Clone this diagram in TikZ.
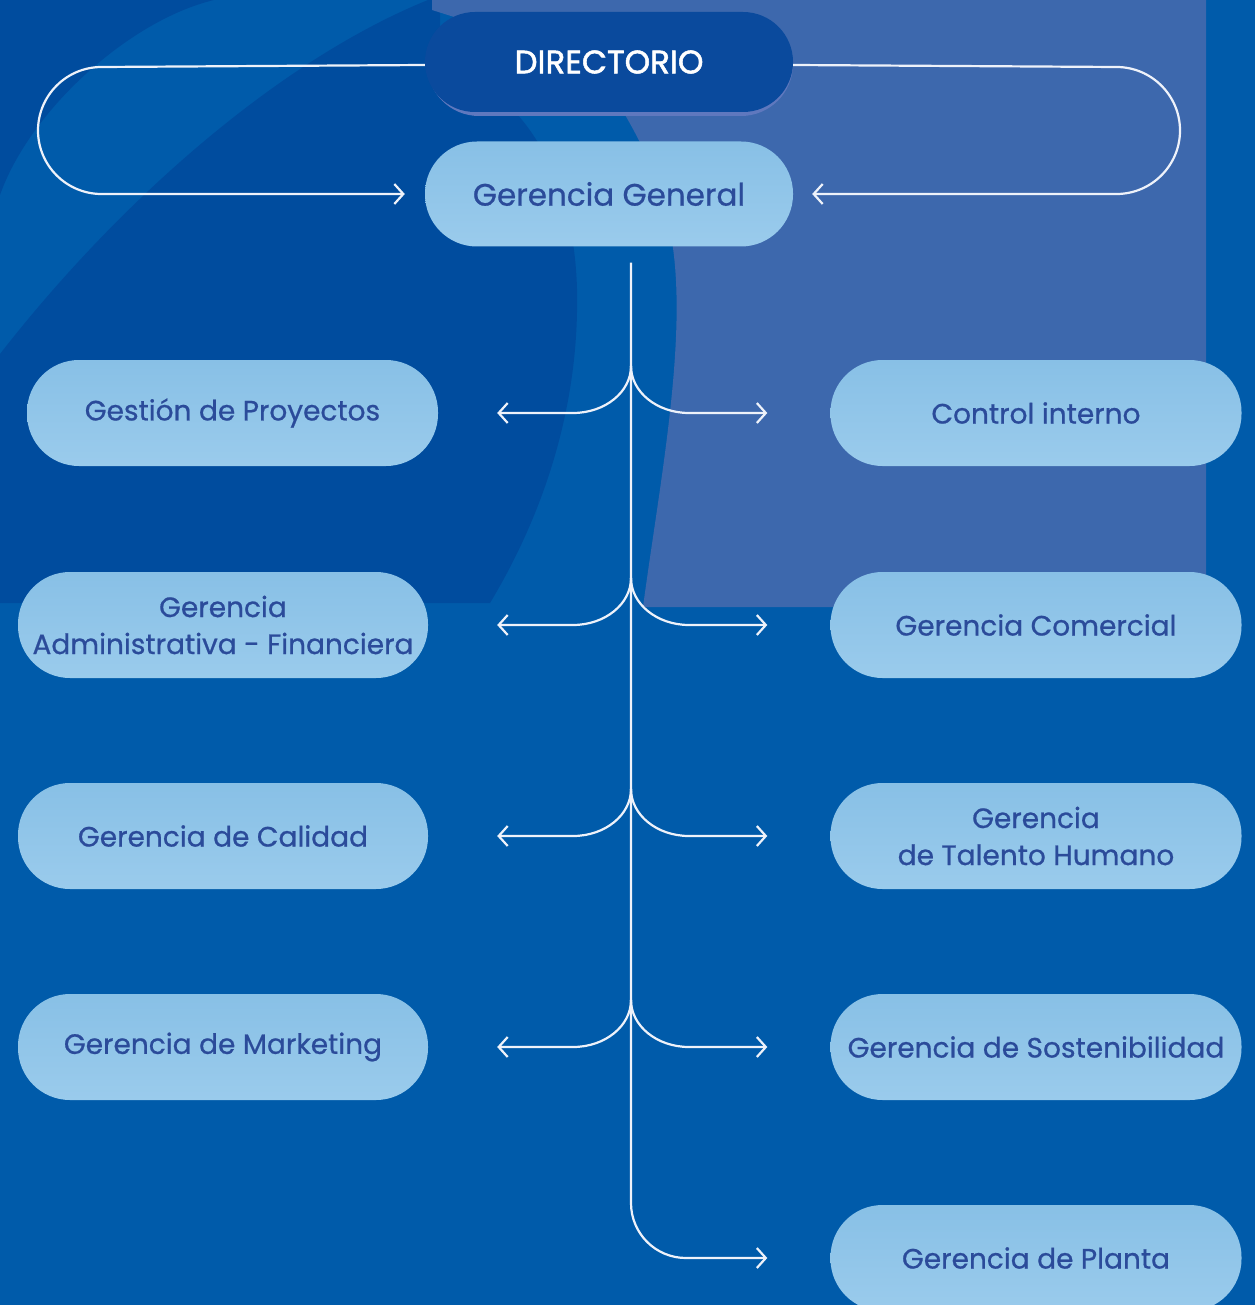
\documentclass[tikz,border=0pt]{standalone}
\usepackage{fontspec}
\setmainfont{Poppins}
\newfontfamily\medfont{Poppins}[FakeBold=0.7]
\newfontfamily\dirfont{Poppins}[FakeBold=1.6]
\usetikzlibrary{arrows.meta}
\definecolor{baseC}{HTML}{005BAA}
\definecolor{darkC}{HTML}{004C9E}
\definecolor{lightC}{HTML}{3D68AD}
\definecolor{pillA}{HTML}{88C0E6}
\definecolor{pillB}{HTML}{9ACBEC}
\definecolor{txtC}{HTML}{2B4B9A}
\definecolor{dirC}{HTML}{0A4A9D}
\definecolor{dirGlow}{HTML}{5F78BE}
\definecolor{lineC}{HTML}{EEF2FA}
\begin{document}
\begin{tikzpicture}[x=1pt,y=-1pt,
  pillshape/.style={rectangle, rounded corners=52pt, minimum width=411pt, minimum height=106pt,
    inner sep=0pt, align=center},
  pill/.style={pillshape, top color=pillA, bottom color=pillB, text=txtC,
    font=\medfont\fontsize{28}{37}\selectfont},
  conn/.style={draw=lineC, line width=2.2pt},
  tip/.style={-{Straight Barb[length=9pt,width=20pt]}}]
\useasboundingbox (0,0) rectangle (1255,1305);
% background
\fill[baseC] (0,0) rectangle (1255,1305);
\fill[darkC] (0,0) -- (214,0) .. controls (130,20) and (30,110) .. (0,195) -- cycle;
\fill[darkC] (0,354) .. controls (120,200) and (280,60) .. (428,0) -- (440,0) -- (440,60)
  .. controls (540,100) and (580,200) .. (577,312)
  .. controls (575,420) and (540,520) .. (490,603) -- (0,603) -- cycle;
\fill[lightC] (432,0) -- (1206,0) -- (1206,607) -- (643,607)
  .. controls (660,480) and (690,330) .. (670,230)
  .. controls (655,160) and (630,120) .. (590,60) -- (432,10) -- cycle;
% nodes
\node[pillshape, minimum width=366pt, minimum height=100pt, fill=dirGlow] (dirg) at (610,66) {};
\node[pillshape, rounded corners=50pt, minimum width=368pt, minimum height=100pt,
  fill=dirC, text=white, font=\dirfont\fontsize{32.5}{36}\selectfont] (dir) at (609,62) {DIRECTORIO};
\node[pill, minimum width=368pt, minimum height=105pt, font=\medfont\fontsize{31}{36}\selectfont] (gg) at (609,194) {Gerencia General};
\node[pill] (gp) at (232.5,413) {Gestión de Proyectos};
\node[pill] (ci) at (1036,413) {Control interno};
\node[pill, minimum width=410pt] (gaf) at (223,625) {Gerencia\\Administrativa - Financiera};
\node[pill] (gc) at (1036,625) {Gerencia Comercial};
\node[pill, minimum width=410pt] (gcal) at (223,836) {Gerencia de Calidad};
\node[pill] (gth) at (1036,836) {Gerencia\\de Talento Humano};
\node[pill, minimum width=410pt] (gm) at (223,1047) {Gerencia de Marketing};
\node[pill] (gs) at (1036,1047) {Gerencia de Sostenibilidad};
\node[pill] (gpl) at (1036,1258) {Gerencia de Planta};
% top loops
\draw[conn,tip] ([yshift=-3pt]dir.west) -- (101.5,67) .. controls (66.5,67) and (38,95.5) .. (38,130.5)
  .. controls (38,165.5) and (66.5,194) .. (101.5,194) -- ([xshift=-20pt]gg.west);
\draw[conn,tip] ([yshift=-3pt]dir.east) -- (1116.5,67) .. controls (1151.5,67) and (1180,95.5) .. (1180,130.5)
  .. controls (1180,165.5) and (1151.5,194) .. (1116.5,194) -- ([xshift=19pt]gg.east);
% trunk
\draw[conn,tip] ([xshift=22pt,yshift=-16pt]gg.south) -- (631,1203)
  .. controls (631,1233.4) and (655.6,1258) .. (686,1258) -- ([xshift=-63pt]gpl.west);
% forks
\coordinate (f1) at (631,366);
\coordinate (f2) at (631,578);
\coordinate (f3) at (631,789);
\coordinate (f4) at (631,1000);
\draw[conn,tip] (f1) .. controls (631,392) and (605,413) .. (573,413) -- ([xshift=59pt]gp.east);
\draw[conn,tip] (f1) .. controls (631,392) and (657,413) .. (689,413) -- ([xshift=-63pt]ci.west);
\draw[conn,tip] (f2) .. controls (631,604) and (605,625) .. (573,625) -- ([xshift=69pt]gaf.east);
\draw[conn,tip] (f2) .. controls (631,604) and (657,625) .. (689,625) -- ([xshift=-63pt]gc.west);
\draw[conn,tip] (f3) .. controls (631,815) and (605,836) .. (573,836) -- ([xshift=69pt]gcal.east);
\draw[conn,tip] (f3) .. controls (631,815) and (657,836) .. (689,836) -- ([xshift=-63pt]gth.west);
\draw[conn,tip] (f4) .. controls (631,1026) and (605,1047) .. (573,1047) -- ([xshift=69pt]gm.east);
\draw[conn,tip] (f4) .. controls (631,1026) and (657,1047) .. (689,1047) -- ([xshift=-63pt]gs.west);
\end{tikzpicture}
\end{document}
